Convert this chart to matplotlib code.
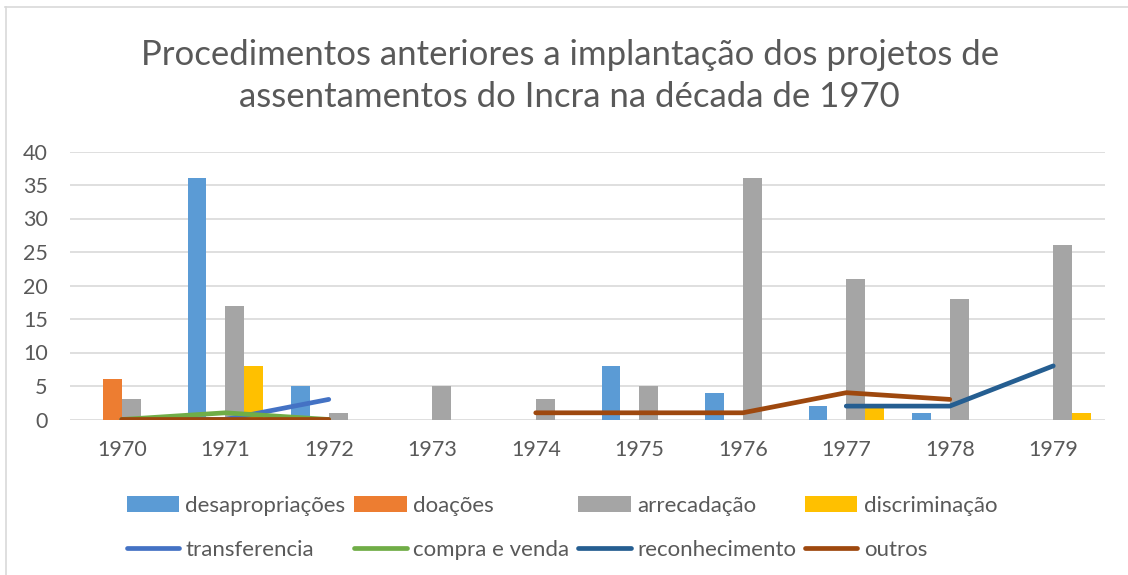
import numpy as np
import matplotlib
matplotlib.use("Agg")
import matplotlib.pyplot as plt
from matplotlib.lines import Line2D
from matplotlib.patches import Patch

plt.rcParams["font.family"] = ["Lato", "DejaVu Sans"]

anos = ["1970", "1971", "1972", "1973", "1974", "1975", "1976", "1977", "1978", "1979"]

# barras
desapropriacoes = [0, 36, 5, 0, 0, 8, 4, 2, 1, 0]
doacoes = [6, 0, 0, 0, 0, 0, 0, 0, 0, 0]
arrecadacao = [3, 17, 1, 5, 3, 5, 36, 21, 18, 26]
discriminacao = [0, 8, 0, 0, 0, 0, 0, 2, 0, 1]

# linhas (nan = sem valor)
nan = np.nan
transferencia = [0, 0, 3, nan, nan, nan, nan, nan, nan, nan]
compra_venda = [0, 1, 0, nan, nan, nan, nan, nan, nan, nan]
reconhecimento = [nan, nan, nan, nan, nan, nan, nan, 2, 2, 8]
outros = [0, 0, 0, nan, 1, 1, 1, 4, 3, nan]

cinza = "#595959"
W, H = 1128, 575
fig = plt.figure(figsize=(W / 100, H / 100), dpi=100)
ax = fig.add_axes([70 / W, 1 - 419.5 / H, 1035 / W, 268 / H])

x = np.arange(len(anos))
w = 1 / 5.5
barras = [
    (desapropriacoes, "#5B9BD5", "desapropriações"),
    (doacoes, "#ED7D31", "doações"),
    (arrecadacao, "#A5A5A5", "arrecadação"),
    (discriminacao, "#FFC000", "discriminação"),
]
for i, (vals, cor, nome) in enumerate(barras):
    ax.bar(x + (i - 1.5) * w, vals, w, color=cor, zorder=2)

linhas = [
    (transferencia, "#4472C4", "transferencia"),
    (compra_venda, "#70AD47", "compra e venda"),
    (reconhecimento, "#255E91", "reconhecimento"),
    (outros, "#9E480E", "outros"),
]
for vals, cor, nome in linhas:
    ax.plot(x, vals, color=cor, lw=3.4, solid_capstyle="round", solid_joinstyle="round", zorder=3)

ax.set_xlim(-0.5, 9.5)
ax.set_ylim(0, 40)
ax.set_yticks(range(0, 41, 5))
ax.set_xticks(x)
ax.set_xticklabels(anos)
ax.grid(axis="y", color="#D9D9D9", lw=1.2, zorder=0)
ax.set_axisbelow(True)
for s in ax.spines.values():
    s.set_visible(False)
ax.tick_params(length=0, labelsize=15.5, labelcolor=cinza)
ax.tick_params(axis="y", pad=16)
ax.tick_params(axis="x", pad=15)

fig.text(0.505, 1 - 76 / H, "Procedimentos anteriores a implantação dos projetos de\nassentamentos do Incra na década de 1970",
         ha="center", va="center", fontsize=25, color=cinza, linespacing=1.4)

handles = []
for (bv, bc, bn), (lv, lc, ln) in zip(barras, linhas):
    handles.append(Patch(facecolor=bc, label=bn))
    handles.append(Line2D([], [], color=lc, lw=3.4, solid_capstyle="round", label=ln))
fig.legend(handles=handles, ncol=4, loc="center", bbox_to_anchor=(562 / W, 1 - 528 / H),
           frameon=False, fontsize=16, labelcolor=cinza, handlelength=2.35, handleheight=0.7,
           handletextpad=0.3, columnspacing=0.4, labelspacing=1.1)

fig.add_artist(Line2D([5 / W, 1], [1 - 7 / H, 1 - 7 / H], color="#D9D9D9", lw=1.2))
fig.add_artist(Line2D([6 / W, 6 / W], [0, 1 - 7 / H], color="#D9D9D9", lw=1.2))

fig.savefig("out.png", dpi=100)
